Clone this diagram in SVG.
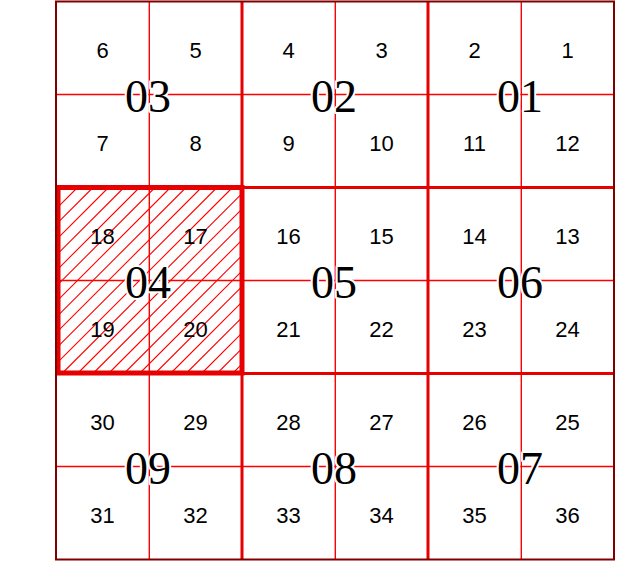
<svg xmlns="http://www.w3.org/2000/svg" width="634" height="569" viewBox="0 0 634 569">
<style>
.thin{stroke:#ff0000;stroke-width:1.4;fill:none}
.thick{stroke:#e60000;stroke-width:3;fill:none}
.hatch{stroke:#ff0000;stroke-width:1.1;fill:none}
.n{font-family:"Liberation Sans",Arial,sans-serif;font-size:22px;fill:#000;text-anchor:middle}
.b{font-family:"Liberation Serif","Times New Roman",serif;font-size:46px;fill:#000;text-anchor:middle;stroke:#fff;stroke-width:4;paint-order:stroke;stroke-linejoin:round}
</style>
<defs>
<clipPath id="clip04"><rect x="58" y="187.5" width="184" height="186"/></clipPath>
</defs>
<rect x="0" y="0" width="634" height="569" fill="#fff"/>
<g id="hatch-04" clip-path="url(#clip04)">
<path class="hatch" d="M-124,373.5 l186,-186 M-108.5,373.5 l186,-186 M-93,373.5 l186,-186 M-77.5,373.5 l186,-186 M-62,373.5 l186,-186 M-46.5,373.5 l186,-186 M-31,373.5 l186,-186 M-15.5,373.5 l186,-186 M0,373.5 l186,-186 M15.5,373.5 l186,-186 M31,373.5 l186,-186 M46.5,373.5 l186,-186 M62,373.5 l186,-186 M77.5,373.5 l186,-186 M93,373.5 l186,-186 M108.5,373.5 l186,-186 M124,373.5 l186,-186 M139.5,373.5 l186,-186 M155,373.5 l186,-186 M170.5,373.5 l186,-186 M186,373.5 l186,-186 M201.5,373.5 l186,-186 M217,373.5 l186,-186 M232.5,373.5 l186,-186"/>
</g>
<g id="grid-lines">
<path class="thin" d="M149.3,1.5 V559.5 M335.3,1.5 V559.5 M521.3,1.5 V559.5 M56,94.5 H614 M56,280.5 H614 M56,466.5 H614"/>
<path class="thick" d="M242,1.5 V559.5 M428,1.5 V559.5 M56,187.5 H614 M56,373.5 H614"/>
</g>
<g id="cell-03">
<text class="n" x="102.5" y="57.5">6</text><text class="n" x="195.5" y="57.5">5</text>
<text class="n" x="102.5" y="150.5">7</text><text class="n" x="195.5" y="150.5">8</text>
<text class="b" x="148" y="112">03</text>
</g>
<g id="cell-02">
<text class="n" x="288.5" y="57.5">4</text><text class="n" x="381.5" y="57.5">3</text>
<text class="n" x="288.5" y="150.5">9</text><text class="n" x="381.5" y="150.5">10</text>
<text class="b" x="334" y="112">02</text>
</g>
<g id="cell-01">
<text class="n" x="474.5" y="57.5">2</text><text class="n" x="567.5" y="57.5">1</text>
<text class="n" x="474.5" y="150.5">11</text><text class="n" x="567.5" y="150.5">12</text>
<text class="b" x="520" y="112">01</text>
</g>
<g id="cell-04">
<text class="n" x="102.5" y="243.5">18</text><text class="n" x="195.5" y="243.5">17</text>
<text class="n" x="102.5" y="336.5">19</text><text class="n" x="195.5" y="336.5">20</text>
<text class="b" x="148" y="298">04</text>
<rect x="58" y="187.5" width="184" height="185.5" fill="none" stroke="#e60000" stroke-width="5"/>
</g>
<g id="cell-05">
<text class="n" x="288.5" y="243.5">16</text><text class="n" x="381.5" y="243.5">15</text>
<text class="n" x="288.5" y="336.5">21</text><text class="n" x="381.5" y="336.5">22</text>
<text class="b" x="334" y="298">05</text>
</g>
<g id="cell-06">
<text class="n" x="474.5" y="243.5">14</text><text class="n" x="567.5" y="243.5">13</text>
<text class="n" x="474.5" y="336.5">23</text><text class="n" x="567.5" y="336.5">24</text>
<text class="b" x="520" y="298">06</text>
</g>
<g id="cell-09">
<text class="n" x="102.5" y="429.5">30</text><text class="n" x="195.5" y="429.5">29</text>
<text class="n" x="102.5" y="522.5">31</text><text class="n" x="195.5" y="522.5">32</text>
<text class="b" x="148" y="484">09</text>
</g>
<g id="cell-08">
<text class="n" x="288.5" y="429.5">28</text><text class="n" x="381.5" y="429.5">27</text>
<text class="n" x="288.5" y="522.5">33</text><text class="n" x="381.5" y="522.5">34</text>
<text class="b" x="334" y="484">08</text>
</g>
<g id="cell-07">
<text class="n" x="474.5" y="429.5">26</text><text class="n" x="567.5" y="429.5">25</text>
<text class="n" x="474.5" y="522.5">35</text><text class="n" x="567.5" y="522.5">36</text>
<text class="b" x="520" y="484">07</text>
</g>
<g id="connectors"></g>
<rect id="outer-border" x="56" y="1.5" width="558" height="558" fill="none" stroke="#800000" stroke-width="2"/>
</svg>
